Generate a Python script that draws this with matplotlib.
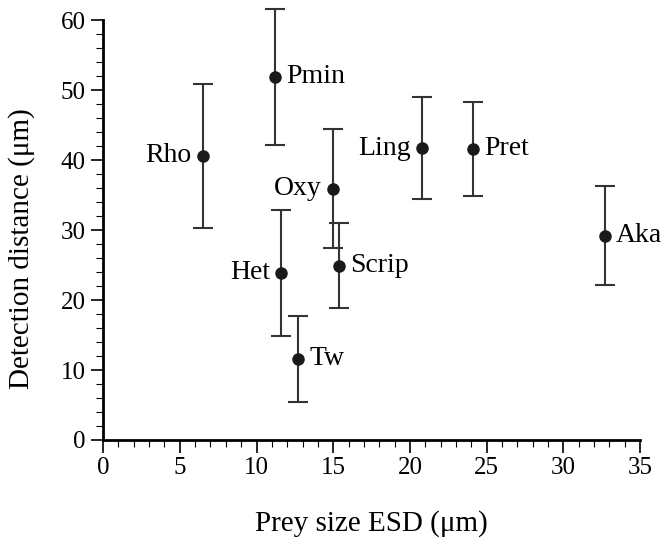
import matplotlib
matplotlib.use("Agg")
import matplotlib.pyplot as plt
from matplotlib.ticker import MultipleLocator

plt.rcParams["font.family"] = ["Liberation Serif", "DejaVu Serif"]

# prey taxa, size (ESD) and detection distance with error
names = ["Rho", "Pmin", "Oxy", "Het", "Scrip", "Tw", "Ling", "Pret", "Aka"]
size = [6.5, 11.2, 15.0, 11.6, 15.4, 12.7, 20.8, 24.1, 32.7]
dist = [40.6, 51.9, 35.9, 23.9, 24.9, 11.6, 41.7, 41.6, 29.2]
err = [10.3, 9.7, 8.5, 9.0, 6.1, 6.1, 7.3, 6.7, 7.1]
label_side = ["left", "right", "left", "left", "right", "right", "left", "right", "right"]

fig = plt.figure(figsize=(6.65, 5.5), dpi=100)
ax = fig.add_axes([0.155, 0.2, 0.8075, 0.7636])

eb = ax.errorbar(size, dist, yerr=err, fmt="o", color="#1a1a1a", ecolor="#333333",
                 elinewidth=1.5, capsize=7, capthick=1.5, markersize=8)
for artist in eb.lines[1] + eb.lines[2]:
    artist.set_clip_on(False)
eb.lines[0].set_clip_on(False)

for n, x, y, side in zip(names, size, dist, label_side):
    dx = -8 if side == "left" else 8
    ax.annotate(n, (x, y), xytext=(dx, 0), textcoords="offset points",
                ha="right" if side == "left" else "left", va="center", fontsize=20)

ax.set_xlim(0, 35)
ax.set_ylim(0, 60)
ax.xaxis.set_major_locator(MultipleLocator(5))
ax.xaxis.set_minor_locator(MultipleLocator(1))
ax.yaxis.set_major_locator(MultipleLocator(10))
ax.yaxis.set_minor_locator(MultipleLocator(2))
ax.tick_params(which="major", length=9, width=1.2, labelsize=18, direction="out")
ax.tick_params(which="minor", length=5, width=0.8, direction="out")

for s in ["top", "right"]:
    ax.spines[s].set_visible(False)
for s in ["left", "bottom"]:
    ax.spines[s].set_linewidth(2)

ax.set_xlabel("Prey size ESD (\u03bcm)", fontsize=21, labelpad=22)
ax.set_ylabel("Detection distance (\u03bcm)", fontsize=21)
ax.yaxis.set_label_coords(-0.127, 0.455)

fig.savefig("out.png", dpi=100)
